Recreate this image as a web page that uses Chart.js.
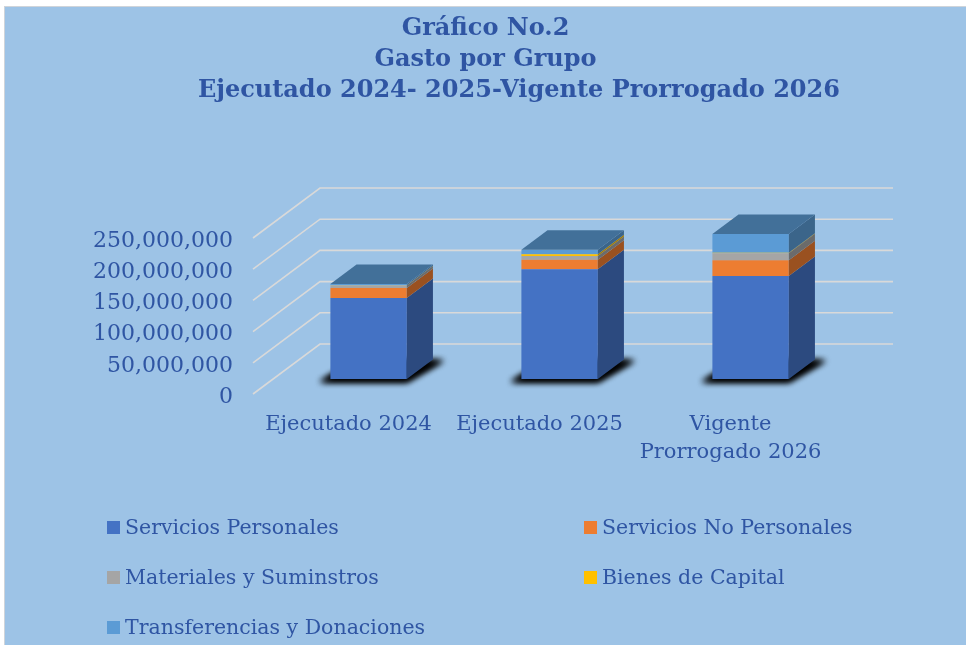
<!DOCTYPE html>
<html>
<head>
<meta charset="utf-8">
<script src="https://cdn.jsdelivr.net/npm/chart.js@4.4.1/dist/chart.umd.min.js"></script>
<style>
  body { margin: 0; background: #fff; font-family: "DejaVu Serif", serif; }
  #box {
    position: absolute; left: 4px; top: 6px; width: 962px; height: 639px;
    background: #9DC3E6; border-left: 1px solid #cfd4da; border-top: 1px solid #cfd4da;
    box-sizing: border-box; overflow: hidden;
  }
  #wrap { position: absolute; left: 0; top: 0; width: 961px; height: 480px; }
  #legend { position: absolute; left: 0; top: 0; width: 961px; height: 638px; pointer-events: none; }
  .item { position: absolute; display: flex; align-items: center; color: #2F55A3; font-size: 20.5px; white-space: nowrap; height: 30px; }
  .item span.sw { width: 13px; height: 13px; margin-right: 5px; display: inline-block; }
</style>
</head>
<body>
<div id="box">
  <div id="wrap"><canvas id="gastoChart"></canvas></div>
  <div id="legend"></div>
</div>
<script>
const categories = [['Ejecutado 2024'], ['Ejecutado 2025'], ['Vigente', 'Prorrogado 2026']];
const seriesNames = ['Servicios Personales', 'Servicios No Personales', 'Materiales y Suminstros', 'Bienes de Capital', 'Transferencias y Donaciones'];
const seriesColors = ['#4472C4', '#ED7D31', '#A5A5A5', '#FFC000', '#5B9BD5'];

const serviciosPersonales = [130000000, 176000000, 165000000];
const serviciosNoPersonales = [16000000, 15000000, 25500000];
const materiales = [4000000, 6000000, 11000000];
const bienesCapital = [300000, 3000000, 800000];
const transferencias = [2000000, 7000000, 30000000];
const seriesValues = [serviciosPersonales, serviciosNoPersonales, materiales, bienesCapital, transferencias];

const yTicks = [0, 50000000, 100000000, 150000000, 200000000, 250000000];

// fake 3d: back wall offset and bar placement inside the depth
const WALL_DX = 67, WALL_DY = -50;
const BAR_POS = 0.3, BAR_DEPTH = 0.39;
const TEXT = '#2F55A3';

function shade(hex, f) {
  const n = parseInt(hex.slice(1), 16);
  const r = Math.round(((n >> 16) & 255) * f), g = Math.round(((n >> 8) & 255) * f), b = Math.round((n & 255) * f);
  return `rgb(${r},${g},${b})`;
}

const depthPlugin = {
  id: 'depth3d',
  beforeDatasetsDraw(chart) {
    const { ctx, chartArea: a, scales: { y } } = chart;
    ctx.save();
    ctx.strokeStyle = '#D9D9D9';
    ctx.lineWidth = 1.6;
    y.ticks.forEach(t => {
      const py = y.getPixelForValue(t.value);
      ctx.beginPath();
      ctx.moveTo(a.left, py);
      ctx.lineTo(a.left + WALL_DX, py + WALL_DY);
      ctx.lineTo(a.right + WALL_DX, py + WALL_DY);
      ctx.stroke();
    });
    ctx.restore();

    ctx.save();
    ctx.translate(WALL_DX * BAR_POS, WALL_DY * BAR_POS);
    const bdx = WALL_DX * BAR_DEPTH, bdy = WALL_DY * BAR_DEPTH;
    const off = 3000; // draw shape off-canvas, keep only its blurred shadow
    chart.getDatasetMeta(0).data.forEach(bar => {
      const { x, width, base } = bar.getProps(['x', 'width', 'base'], true);
      const x0 = x - width / 2 - off, x1 = x + width / 2 - off;
      ctx.save();
      ctx.shadowColor = 'rgba(0,0,0,1)';
      ctx.shadowBlur = 6;
      ctx.shadowOffsetX = off;
      ctx.fillStyle = '#000';
      for (let k = 0; k < 2; k++) {
        ctx.beginPath();
        ctx.moveTo(x0 - 11, base + 3);
        ctx.lineTo(x1, base + 3);
        ctx.lineTo(x1 + bdx + 11, base + bdy + 1);
        ctx.lineTo(x0 + bdx, base + bdy);
        ctx.closePath();
        ctx.fill();
      }
      ctx.restore();
    });
  },
  afterDatasetsDraw(chart) {
    const { ctx } = chart;
    const bdx = WALL_DX * BAR_DEPTH, bdy = WALL_DY * BAR_DEPTH;
    chart.data.datasets.forEach((ds, di) => {
      chart.getDatasetMeta(di).data.forEach(bar => {
        const { x, y, width, base } = bar.getProps(['x', 'y', 'width', 'base'], true);
        if (Math.abs(base - y) < 0.01) return;
        const x1 = x + width / 2;
        ctx.fillStyle = shade(seriesColors[di], 0.65);
        ctx.beginPath();
        ctx.moveTo(x1, y);
        ctx.lineTo(x1 + bdx, y + bdy);
        ctx.lineTo(x1 + bdx, base + bdy);
        ctx.lineTo(x1, base);
        ctx.closePath();
        ctx.fill();
      });
    });
    // top face takes the colour of the highest segment
    categories.forEach((c, i) => {
      let top = -1;
      seriesValues.forEach((vals, di) => { if (vals[i] > 0) top = di; });
      if (top < 0) return;
      const { x, y, width } = chart.getDatasetMeta(top).data[i].getProps(['x', 'y', 'width'], true);
      const x0 = x - width / 2, x1 = x + width / 2;
      ctx.fillStyle = shade(seriesColors[top], 0.72);
      ctx.beginPath();
      ctx.moveTo(x0, y);
      ctx.lineTo(x0 + bdx, y + bdy);
      ctx.lineTo(x1 + bdx, y + bdy);
      ctx.lineTo(x1, y);
      ctx.closePath();
      ctx.fill();
    });
    ctx.restore();
  }
};

const datasets = seriesNames.map((name, i) => ({
  label: name,
  data: seriesValues[i],
  backgroundColor: seriesColors[i],
  borderWidth: 0,
  barPercentage: 0.4,
  categoryPercentage: 1
}));

new Chart(document.getElementById('gastoChart'), {
  type: 'bar',
  data: { labels: categories, datasets },
  options: {
    responsive: true,
    maintainAspectRatio: false,
    animation: false,
    plugins: {
      legend: { display: false },
      tooltip: { enabled: false },
      title: {
        display: true,
        text: ['Gráfico No.2', 'Gasto por Grupo', '        Ejecutado 2024- 2025-Vigente Prorrogado 2026'],
        color: TEXT,
        font: { family: 'DejaVu Serif', size: 24, weight: 'bold', lineHeight: 1.3 },
        padding: { top: 6, bottom: 131.4 }
      }
    },
    scales: {
      x: {
        stacked: true,
        grid: { display: false, drawTicks: false },
        border: { display: false },
        ticks: { color: TEXT, font: { family: 'DejaVu Serif', size: 21, lineHeight: 1.33 }, padding: 17, maxRotation: 0 },
        afterFit: s => { s.height = 93; }
      },
      y: {
        stacked: true,
        min: 0,
        max: 250000000,
        grid: { display: false, drawTicks: false },
        border: { display: false },
        afterBuildTicks: s => { s.ticks = yTicks.map(v => ({ value: v })); },
        ticks: {
          color: TEXT,
          font: { family: 'DejaVu Serif', size: 22 },
          padding: 20,
          labelOffset: 3,
          callback: v => v.toLocaleString('en-US')
        },
        afterFit: s => { s.width = 248; }
      },
      // empty right-hand axis that reserves the space for the 3d depth
      depth: {
        position: 'right',
        grid: { display: false, drawTicks: false },
        border: { display: false },
        ticks: { display: false },
        afterFit: s => { s.width = 140; }
      }
    }
  },
  plugins: [depthPlugin]
});

// legend in two columns, like the original
const legend = document.getElementById('legend');
seriesNames.forEach((name, i) => {
  const el = document.createElement('div');
  el.className = 'item';
  el.style.left = (i % 2 === 0 ? 102 : 579) + 'px';
  el.style.top = (505 + Math.floor(i / 2) * 50) + 'px';
  el.innerHTML = `<span class="sw" style="background:${seriesColors[i]}"></span>${name}`;
  legend.appendChild(el);
});
</script>
</body>
</html>
